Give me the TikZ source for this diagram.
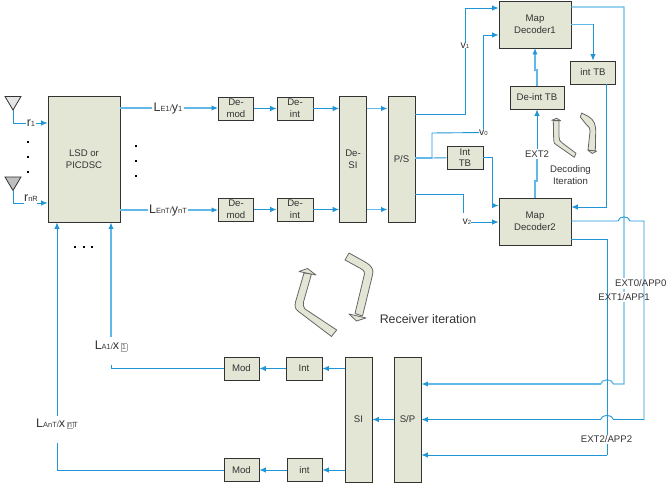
\documentclass[tikz,border=0pt]{standalone}
\usepackage{fontspec}
\setmainfont{Liberation Sans}
\usetikzlibrary{arrows.meta,calc}
\definecolor{wire}{HTML}{2096D6}
\definecolor{wirel}{HTML}{62B8E6}
\definecolor{boxfill}{HTML}{E3E5D5}
\definecolor{ink}{HTML}{333333}
\setlength{\fboxsep}{0.8pt}
\setlength{\fboxrule}{0.3pt}
\newcommand{\bigc}[1]{{\fontsize{12.5}{13}\selectfont #1}}
\newcommand{\subc}[1]{{\fontsize{7.5}{8}\selectfont #1}}
\newcommand{\vlab}[2]{{\fontsize{10.5}{11}\selectfont #1}{\fontsize{6}{7}\selectfont #2}}
\newcommand{\boxc}[1]{\fcolorbox{black!35}{white}{\textcolor{black!60}{\subc{#1}}}}
\tikzset{
 x=1pt,y=-1pt,
 every node/.style={text=ink,font=\fontsize{9.6}{11.6}\selectfont,inner sep=0pt,align=center},
 block/.style={draw=black!80,line width=0.9pt,fill=boxfill},
 wirea/.style={draw=wire,line width=0.9pt},
 wireb/.style={draw=wirel,line width=1.3pt},
 tip/.style={-{Latex[length=6.5pt,width=5.5pt,color=wire]}},
 lab/.style={fill=white,inner sep=1pt},
 free/.style={inner sep=0pt},
 bigarrow/.style={draw=black!60,line width=0.8pt,fill=boxfill,line join=round},
 dotn/.style={fill=black,minimum size=2pt,inner sep=0pt}
}
\newcommand{\bx}[6]{\node[block,minimum width=#4 pt,minimum height=#5 pt] (#1) at (#2,#3) {#6};}
\begin{document}
\begin{tikzpicture}
\useasboundingbox (0,0) rectangle (667,489);
% boxes
\bx{lsd}{84}{159}{72}{126}{LSD or\\PICDSC}
\bx{dmA}{236}{108.5}{35}{23}{De-\\mod}
\bx{diA}{295}{108.5}{36}{23}{De-\\int}
\bx{dmB}{236}{209.5}{35}{23}{De-\\mod}
\bx{diB}{295}{209.5}{36}{23}{De-\\int}
\bx{desi}{353}{159}{27}{126}{De-\\SI}
\bx{ps}{401.5}{159}{27}{126}{P/S}
\bx{inttb}{465}{157.5}{36}{23}{Int\\TB}
\bx{mapA}{535}{24.5}{72}{47}{Map\\Decoder1}
\bx{tbint}{593}{72.5}{45}{23}{int TB}
\bx{deint}{537}{97.5}{54}{23}{De-int TB}
\bx{mapB}{535}{221.5}{72}{47}{Map\\Decoder2}
\bx{si}{358.5}{419.5}{27}{125}{SI}
\bx{sp}{407.5}{419.5}{27}{125}{S/P}
\bx{modA}{241.5}{368.5}{35}{23}{Mod}
\bx{intA}{304}{368.5}{36}{23}{Int}
\bx{modB}{241.5}{470}{35}{23}{Mod}
\bx{intB}{304.5}{470}{35}{23}{int}
% antennas
\coordinate (aAl) at (5,96.5); \coordinate (aAr) at (21,96.5); \coordinate (aA) at (13,110);
\coordinate (aBl) at (5,177); \coordinate (aBr) at (21,177); \coordinate (aB) at (13,190.5);
\draw[draw=black!80,line width=0.8pt,fill=black!10] (aAl) -- (aAr) -- (aA) -- cycle;
\draw[draw=black!80,line width=0.8pt,fill=black!25] (aBl) -- (aBr) -- (aB) -- cycle;
% labels on wires
\node[lab] (rA) at (31,123) {\bigc{r}\subc{1}};
\node[lab,inner sep=0.5pt] (rB) at (31,198) {\bigc{r}\subc{nR}};
\coordinate (rBin) at (37,203); \coordinate (rBout) at (24,203);
\draw[wirea] (aA) |- (rA);
\draw[wirea,tip] (rA) -- (lsd.west |- rA);
\draw[wirea] (aB) |- (rBout);
\draw[wirea,tip] (rBin) -- (lsd.west |- rBin);
\node[lab] (lEA) at (168,108) {\bigc{L}\subc{E1/}\bigc{y}\subc{1}};
\node[lab] (lEB) at (168,210) {\bigc{L}\subc{EnT/}\bigc{y}\subc{nT}};
\draw[wireb] (lsd.east |- lEA) -- (lEA);
\draw[wireb,tip] (lEA) -- (dmA.west |- lEA);
\draw[wireb] (lsd.east |- lEB) -- (lEB);
\draw[wireb,tip] (lEB) -- (dmB.west |- lEB);
\draw[wirea,tip] (dmA) -- (diA);
\draw[wirea,tip] (dmB) -- (diB);
\draw[wirea,tip] (diA) -- (desi.west |- diA);
\draw[wirea,tip] (diB) -- (desi.west |- diB);
\draw[wireb,tip] (desi.east |- diA) -- (ps.west |- diA);
\draw[wireb,tip] (desi.east |- diB) -- (ps.west |- diB);
% P/S outputs
\node[free] (vA) at (465,45.5) {\vlab{v}{1}};
\coordinate (vAin) at (465,114);
\draw[wirea] (ps.east |- vAin) -- (vAin) -- (vA);
\coordinate (mA1) at (465,8);
\draw[wirea,tip] (vA) -- (mA1) -- (mapA.west |- mA1);
\node[free] (vO) at (483.5,132.5) {\vlab{v}{0}};
\coordinate (pOut) at (432,158); \coordinate (vOc) at (432,133);
\draw[wireb] (ps.east |- pOut) -- (pOut);
\draw[wirea] (pOut) -- (vOc) -- (vO);
\coordinate (mA2) at (483.5,35);
\draw[wirea,tip] (vO) -- (mA2) -- (mapA.west |- mA2);
\draw[wirea] (pOut) -- (inttb);
\coordinate (tbc) at (492,157.5); \coordinate (tbd) at (492,205.5);
\draw[wirea,tip] (inttb.east) -- (tbc) -- (tbd) -- (mapB.west |- tbd);
\node[free] (vB) at (467,222) {\vlab{v}{2}};
\coordinate (vBa) at (463.5,194.5); \coordinate (vBb) at (463.5,213);
\draw[wirea] (ps.east |- vBa) -- (vBa) -- (vBb);
\draw[wirea,tip] (vB) -- (mapB.west |- vB);
% decoder loop
\coordinate (mAb) at (535,48); \coordinate (dA) at (535,70); \coordinate (dB) at (537,70);
\draw[wireb,tip] (deint.north) -- (dB) -- (dA) -- (mAb);
\node[lab] (ext) at (537,154) {EXT2};
\coordinate (dC) at (537,181); \coordinate (dD) at (535,181);
\draw[wireb] (mapB.north) -- (dD) -- (dC) -- (ext);
\draw[wirea,tip] (ext) -- (deint.south);
\coordinate (mO) at (593,24.5);
\draw[wireb] (mapA.east |- mO) -- (mO);
\draw[wirea,tip] (mO) -- (tbint.north);
\coordinate (tO) at (606,84); \coordinate (tC) at (606,207);
\draw[wirea,tip] (tO) -- (tC) -- (mapB.east |- tC);
% big right-hand wires
\coordinate (r1a) at (624,7); \coordinate (r1b) at (624,384);
\coordinate (r2a) at (644,221); \coordinate (r2b) at (644,419.5);
\coordinate (r3a) at (607,239); \coordinate (r3b) at (607,455);
\draw[wireb] (mapA.east |- r1a) -- (r1a) -- (r1b) -- (613.5,384) .. controls (612,378.5) and (602,378.5) .. (600.5,384) coordinate (h1);
\draw[wireb,tip] (h1) -- (sp.east |- h1);
\node[fill=white,inner xsep=1pt,inner ysep=1.5pt,anchor=east] at (666.9,283.5) {\phantom{EXT0/APP0}};
\node[fill=white,inner xsep=1pt,inner ysep=1.5pt] at (624,297) {\phantom{EXT1/APP1}};
\draw[wirea] (mapB.east |- r2a) -- (618,221) .. controls (619.5,215.5) and (628.5,215.5) .. (630,221) -- (r2a) -- (r2b) -- (613.5,419.5) .. controls (612,414) and (602,414) .. (600.5,419.5) coordinate (h2);
\draw[wirea,tip] (h2) -- (sp.east |- h2);
\draw[wirea] (mapB.east |- r3a) -- (r3a) -- (r3b);
\draw[wirea,tip] (r3b) -- (sp.east |- r3b);
\node[fill=white,inner xsep=1pt,inner ysep=1pt] (eB) at (606.5,439.5) {EXT2/APP2};
\node[free,anchor=east] (eO) at (666.6,283.5) {EXT0/APP0};
\node[free] (eA) at (624,297) {EXT1/APP1};
% bottom chain
\draw[wirea,tip] (sp.west |- h2) -- (si.east |- h2);
\draw[wirea,tip] (si.west |- intA) -- (intA);
\draw[wirea,tip] (si.west |- intB) -- (intB);
\draw[wirea,tip] (intA) -- (modA);
\draw[wirea,tip] (intB) -- (modB);
\node[free] (lA) at (111,346) {\bigc{L}\subc{A1/}\bigc{x}\,\boxc{1}};
\node[free] (lB) at (57,423.5) {\bigc{L}\subc{AnT/}\bigc{x}\,\boxc{n}\subc{T}};
\coordinate (lAc) at (111,368.5); \coordinate (lAe) at (111,365); \coordinate (lAs) at (111,337);
\coordinate (lBc) at (57,470); \coordinate (lBe) at (57,443); \coordinate (lBs) at (57,416);
\draw[wirea] (modA) -- (lAc) -- (lAe);
\draw[wireb,tip] (lAs) -- (lsd.south -| lAs);
\draw[wirea] (modB) -- (lBc) -- (lBe);
\draw[wirea,tip] (lBs) -- (lsd.south -| lBs);
% dots
\foreach \n/\px/\py in {a/28/142,b/28/157,c/28/172,d/136/146,e/136/161,f/136/176,g/75/247,h/83.5/247,i/92/247}
  \node[dotn] (dot\n) at (\px,\py) {};
% block arrows: receiver iteration
\draw[bigarrow] (349,253) -- (366,262.5) .. controls (372,266) and (374,270) .. (372.5,275) -- (362.5,316) -- (355,313.5) -- (364,276) .. controls (365,272.5) and (364.5,271) .. (361.5,269) -- (345,260) -- cycle;
\draw[bigarrow] (349,314) -- (366,318) -- (356.5,321) -- cycle;
\draw[bigarrow] (304,273) -- (295.5,302) .. controls (294.5,306) and (295,309) .. (298.5,311.5) -- (331.5,336.5) -- (336.7,330) -- (305,309) .. controls (303.5,307) and (303,305) .. (303.5,302) -- (311.5,274) -- cycle;
\draw[bigarrow] (299,271.5) -- (316,275) -- (307.5,268.5) -- cycle;
% block arrows: decoding iteration
\draw[bigarrow] (581.7,113) -- (588.5,116.5) .. controls (594,120) and (595.7,124) .. (595.7,131.7) -- (595.3,151) -- (588,150) -- (590,131.7) .. controls (590,128) and (589,126.5) .. (586.7,125) -- (580.3,117) -- cycle;
\draw[bigarrow] (588,150.3) -- (596.7,151) -- (592.3,153.5) -- cycle;
\draw[bigarrow] (553.3,120.7) -- (553.7,140) .. controls (553.7,143) and (554.5,144) .. (556.7,145) -- (574.3,157.3) -- (576,153.3) -- (562.7,143.3) .. controls (560,141.5) and (559,140) .. (559,137) -- (559,120.7) -- cycle;
\draw[bigarrow] (551.7,120.3) -- (560.7,120.7) -- (556.7,118.3) -- cycle;
\node[free] (ri) at (428,319.5) {\fontsize{12.4}{14}\selectfont Receiver iteration};
\node[free] (di) at (570.5,175) {Decoding\\Iteration};
\end{tikzpicture}
\end{document}
